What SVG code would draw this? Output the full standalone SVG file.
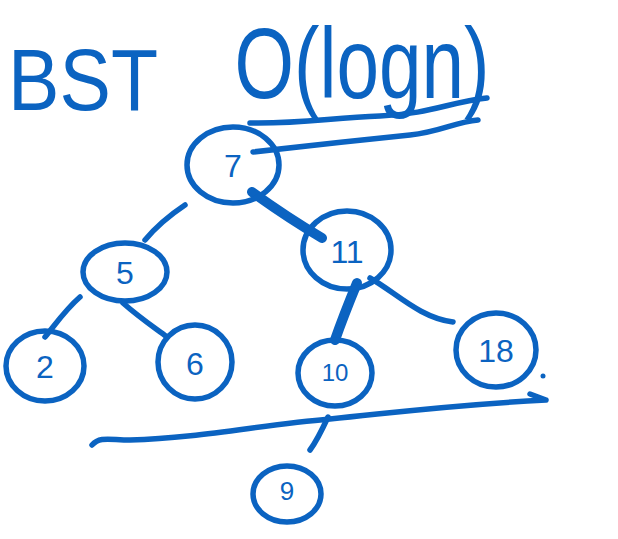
<svg xmlns="http://www.w3.org/2000/svg" width="618" height="539" viewBox="0 0 618 539">
<style>
.s{fill:none;stroke:#0b63c1;stroke-width:5.5;stroke-linecap:round;stroke-linejoin:round}
.k{stroke-width:10}
.t{fill:#0b63c1;font-family:"Liberation Sans","DejaVu Sans",sans-serif;text-anchor:middle}
.n{font-size:32px}
</style>
<rect width="618" height="539" fill="#ffffff"/>
<g id="title">
<text class="t" x="83" y="110" font-size="88" textLength="150" lengthAdjust="spacingAndGlyphs">BST</text>
<text class="t" x="362" y="98" font-size="100" textLength="255" lengthAdjust="spacingAndGlyphs">O(logn)</text>
<path class="s" d="M250,123 C300,124 330,118 380,116 C430,114 450,102 487,98"/>
<path class="s" d="M253,152 C300,147 360,140 410,135 C440,132 455,122 478,120"/>
</g>
<g id="connectors">
<path class="s k" d="M252,192 C270,205 300,225 322,238"/>
<path class="s" d="M185,205 C170,215 155,228 145,240"/>
<path class="s" d="M80,297 C65,310 55,325 45,337"/>
<path class="s" d="M123,303 C140,318 155,328 167,337"/>
<path class="s k" d="M357,283 C350,300 342,320 335,340"/>
<path class="s" d="M370,278 C395,292 420,318 453,322"/>
<path class="s" d="M328,417 C322,430 316,442 310,450"/>
</g>
<g id="node7"><ellipse class="s" cx="233" cy="165" rx="46" ry="38"/><text class="t n" x="233" y="177">7</text></g>
<g id="node11"><ellipse class="s" cx="347" cy="250" rx="44" ry="39"/><text class="t n" x="347" y="263">11</text></g>
<g id="node5"><ellipse class="s" cx="125" cy="272" rx="42" ry="29"/><text class="t n" x="125" y="284">5</text></g>
<g id="node2"><ellipse class="s" cx="45" cy="366" rx="39" ry="35"/><text class="t n" x="45" y="378">2</text></g>
<g id="node6"><ellipse class="s" cx="195" cy="362" rx="37" ry="37"/><text class="t n" x="195" y="375">6</text></g>
<g id="node10"><ellipse class="s" cx="335" cy="373" rx="37" ry="33"/><text class="t" x="335" y="381" font-size="24">10</text></g>
<g id="node18"><ellipse class="s" cx="496" cy="350" rx="40" ry="37"/><text class="t n" x="496" y="362">18</text></g>
<g id="node9"><ellipse class="s" cx="287" cy="494" rx="34" ry="28"/><text class="t" x="287" y="500" font-size="26">9</text></g>
<g id="marks">
<circle cx="543" cy="376" r="2.5" fill="#0b63c1"/>
<path class="s" d="M92,445 C100,436 110,440 130,440 C200,438 260,425 330,419 C400,412 450,405 546,400 M530,394 L546,400"/>
</g>
</svg>
